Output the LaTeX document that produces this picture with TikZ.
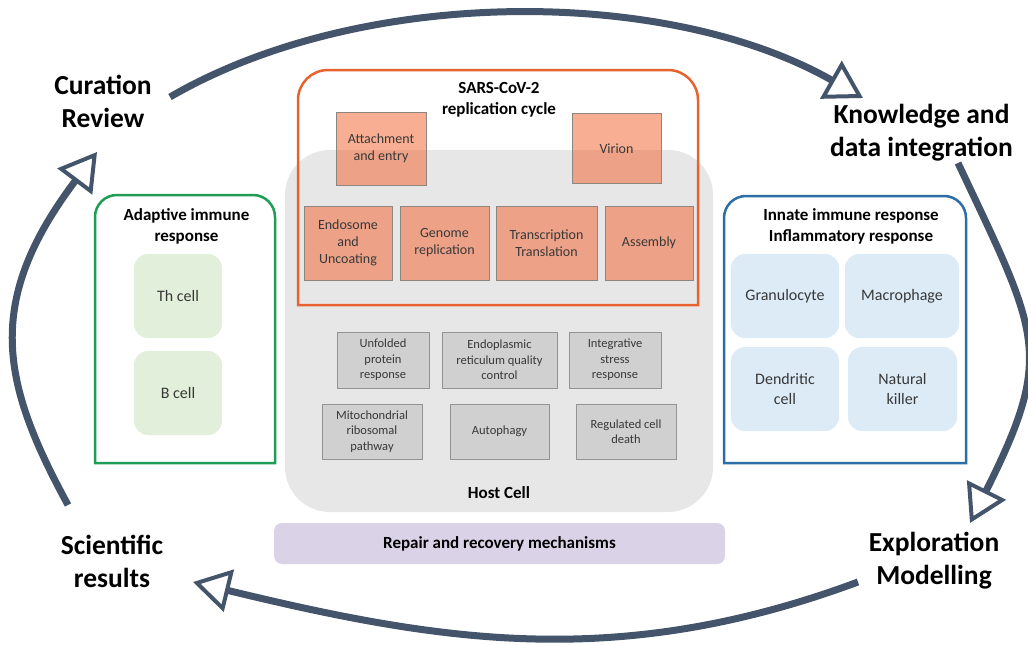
\documentclass[tikz,border=0pt]{standalone}
\usepackage{fontspec}
\setmainfont{Carlito}
\usepackage{tikz}
\usetikzlibrary{arrows.meta}

\definecolor{cycgray}{HTML}{44546A}
\definecolor{virline}{HTML}{E8622F}
\definecolor{virfill}{HTML}{F26B3A}
\definecolor{boxedge}{HTML}{8C8580}
\definecolor{hostgray}{HTML}{E7E7E7}
\definecolor{pathgray}{HTML}{D0D0D0}
\definecolor{repairfill}{HTML}{DAD3E8}
\definecolor{adaptline}{HTML}{1F9D55}
\definecolor{adaptfill}{HTML}{E2EFDA}
\definecolor{innateline}{HTML}{2E6EA6}
\definecolor{innatefill}{HTML}{DDEBF7}

\begin{document}
\begin{tikzpicture}[x=1pt,y=-1pt,
  cyc/.style={draw=cycgray,line width=7pt,-{Triangle[open,length=37pt,width=43pt,line width=4pt]}},
  stage/.style={font=\fontsize{27.5}{33}\selectfont\bfseries,align=center},
  boxtitle/.style={font=\fontsize{17}{21}\selectfont\bfseries,align=center},
  virbox/.style 2 args={draw=boxedge,line width=1pt,fill=virfill,fill opacity=0.55,text opacity=1,
    text=black!78,font=\fontsize{14}{17}\selectfont,align=center,inner sep=1pt,
    minimum width=#1pt,minimum height=#2pt},
  pathbox/.style 2 args={draw=gray!85,line width=1pt,fill=pathgray,text=black!78,
    font=\fontsize{12.5}{15.5}\selectfont,align=center,inner sep=1pt,
    minimum width=#1pt,minimum height=#2pt},
  cell/.style 2 args={fill=#1,rounded corners=14pt,text=black!78,
    font=\fontsize{16}{19.5}\selectfont,align=center,minimum height=84pt,minimum width=#2pt}
]
\useasboundingbox (0,0) rectangle (1028,645);

\node[fill=hostgray,rounded corners=45pt,minimum width=428pt,minimum height=362pt] (host) at (499,331) {};
\node[boxtitle] (hostlbl) at (499,493) {Host Cell};

\draw[virline,line width=2.5pt] (298,200) [rounded corners=30pt] -- (298,70) -- (698,70) -- (698,200)
  [sharp corners] -- (698,305) -- (298,305) -- cycle;
\node[boxtitle] (sars) at (499,99.5) {SARS-CoV-2\\replication cycle};

\node[virbox={90}{73}] (attach) at (381,148.5) {Attachment\\and entry};
\node[virbox={89}{70}] (virion) at (616.5,148.5) {Virion};
\node[virbox={88}{74}] (endo) at (348,243) {Endosome\\and\\Uncoating};
\node[virbox={89}{74}] (genome) at (444.5,243) {Genome\\replication};
\node[virbox={101}{74}] (transc) at (546.5,243) {Transcription\\Translation};
\node[virbox={88}{74}] (assembly) at (649,243) {Assembly};

\node[pathbox={92}{56}] (upr) at (383,360) {Unfolded\\protein\\response};
\node[pathbox={115}{56}] (erqc) at (499.5,360) {Endoplasmic\\reticulum quality\\control};
\node[pathbox={92}{56}] (isr) at (615,360) {Integrative\\stress\\response};
\node[pathbox={100}{55}] (mito) at (372,431.5) {Mitochondrial\\ribosomal\\pathway};
\node[pathbox={99}{55}] (autoph) at (499.5,431.5) {Autophagy};
\node[pathbox={100}{55}] (rcd) at (626,431.5) {Regulated cell\\death};

\node[fill=repairfill,rounded corners=8pt,minimum width=451pt,minimum height=41pt,
  font=\fontsize{17}{21}\selectfont\bfseries] (repair) at (499.5,543.5) {Repair and recovery mechanisms};

\draw[adaptline,line width=2.5pt] (95,330) [rounded corners=22pt] -- (95,195) -- (275,195) -- (275,330)
  [sharp corners] -- (275,463) -- (95,463) -- cycle;
\node[boxtitle] (adapt) at (186.5,226) {Adaptive immune\\response};
\node[cell={adaptfill}{88}] (th) at (178,296) {Th cell};
\node[cell={adaptfill}{88}] (bcell) at (178,393) {B cell};

\draw[innateline,line width=2.5pt] (724,330) [rounded corners=22pt] -- (724,196) -- (966,196) -- (966,330)
  [sharp corners] -- (966,463) -- (724,463) -- cycle;
\node[boxtitle] (innate) at (851,226.5) {Innate immune response\\Inflammatory response};
\node[cell={innatefill}{108}] (gran) at (785,296) {Granulocyte};
\node[cell={innatefill}{114}] (macro) at (902,296) {Macrophage};
\node[cell={innatefill}{108}] (dendr) at (785,389) {Dendritic\\cell};
\node[cell={innatefill}{109}] (nk) at (902.5,389) {Natural\\killer};

\node[stage] (cur) at (103,101.5) {Curation\\Review};
\node[stage] (know) at (921.5,132.5) {Knowledge and\\data integration};
\node[stage] (expl) at (934,561) {Exploration\\Modelling};
\node[stage] (sci) at (112,561) {Scientific\\results};

\coordinate (curout) at (170,97);
\coordinate (knowin) at (863,98);
\coordinate (knowout) at (958,163);
\coordinate (explin) at (970,523);
\coordinate (explout) at (858,582);
\coordinate (sciin) at (193,582);
\coordinate (sciout) at (68,505);
\coordinate (curin) at (97,152);
\draw[cyc] (curout) .. controls (363,-15) and (668,-13) .. (knowin);
\draw[cyc] (knowout) .. controls (1039,335) and (1055,353) .. (explin);
\draw[cyc] (explout) .. controls (618,671) and (441,642) .. (sciin);
\draw[cyc] (sciout) .. controls (1,382) and (-16,302) .. (curin);
\end{tikzpicture}
\end{document}
